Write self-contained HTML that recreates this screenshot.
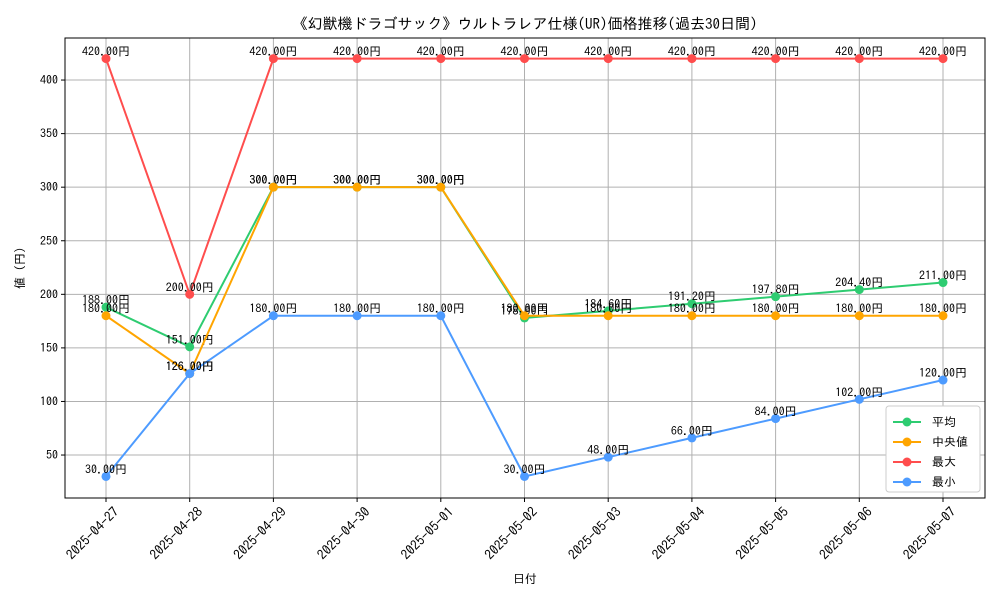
<!DOCTYPE html>
<html><head><meta charset="utf-8"><style>
body{margin:0;background:#fff}
svg{display:block;font-family:"IPAGothic","Noto Sans CJK JP",sans-serif}
</style></head><body>
<svg id="chart" width="1000" height="600">
<text x="525" y="29" font-size="15" text-anchor="middle">《幻獣機ドラゴサック》ウルトラレア仕様(UR)価格推移(過去30日間)</text>
<g id="grid"></g><g id="axes"></g><g id="series"></g>
<text x="525" y="583" font-size="12" text-anchor="middle">日付</text>
<text transform="translate(24,268) rotate(-90)" font-size="12" text-anchor="middle">値 (円)</text>
<g>
<rect x="886" y="406" width="94" height="86" fill="#fff" stroke="#ccc" rx="3"/>
<g id="legend"></g>
</g>
</svg>
<script>
const dates=["2025-04-27","2025-04-28","2025-04-29","2025-04-30","2025-05-01","2025-05-02","2025-05-03","2025-05-04","2025-05-05","2025-05-06","2025-05-07"];
const avgVals=[188,151,300,300,300,178,184.6,191.2,197.8,204.4,211];
const medVals=[180,126,300,300,300,180,180,180,180,180,180];
const maxVals=[420,200,420,420,420,420,420,420,420,420,420];
const minVals=[30,126,180,180,180,30,48,66,84,102,120];
const yTicks=[50,100,150,200,250,300,350,400];
const seriesNames=["平均","中央値","最大","最小"];
const L=65,R=985,T=38,B=498;
const X=i=>106+i*(943-106)/(dates.length-1);
const Y=v=>508.6-v*1.0714;
const NS="http://www.w3.org/2000/svg";
function mk(tag,attrs,parent,txt){const e=document.createElementNS(NS,tag);for(const k in attrs)e.setAttribute(k,attrs[k]);if(txt!=null)e.textContent=txt;parent.appendChild(e);return e;}
const grid=document.getElementById('grid'),axes=document.getElementById('axes'),ser=document.getElementById('series'),leg=document.getElementById('legend');
yTicks.forEach(v=>{
 const l=mk('line',{x1:L,x2:R,y1:Y(v),y2:Y(v),stroke:'#b0b0b0','stroke-width':1},grid);
 
 
 mk('line',{x1:L-4,x2:L,y1:Y(v),y2:Y(v),stroke:'#000'},axes);
 const t=mk('text',{x:L-7,y:Y(v)+4,'font-size':12,'text-anchor':'end'},axes,v);
 
 
});
dates.forEach((d,i)=>{
 const l=mk('line',{x1:X(i),x2:X(i),y1:T,y2:B,stroke:'#b0b0b0','stroke-width':1},grid);
 
 
 mk('line',{x1:X(i),x2:X(i),y1:B,y2:B+4,stroke:'#000'},axes);
 const t=mk('text',{transform:`translate(${X(i)+7},${B+8}) rotate(-45)`,'font-size':13.5,'text-anchor':'end',dy:'0.7em'},axes,d);
 
 
});
mk('rect',{x:L,y:T,width:R-L,height:B-T,fill:'none',stroke:'#000'},axes);
const all=[[avgVals,'#2ecc71'],[medVals,'#ffa500'],[maxVals,'#ff4d4d'],[minVals,'#4d9bff']];
all.forEach(([vals,c],si)=>{
 const g=mk('g',{},ser);
 
 
 mk('polyline',{points:vals.map((v,i)=>X(i)+','+Y(v)).join(' '),fill:'none',stroke:c,'stroke-width':2},g);
 vals.forEach((v,i)=>{
  const p=mk('circle',{cx:X(i),cy:Y(v),r:4.5,fill:c},g);
  
  
  const t=mk('text',{x:X(i),y:Y(v)-3,'font-size':12,'text-anchor':'middle'},g,v.toFixed(2)+'円');
  
  
 });
 const ly=422+si*20;
 mk('line',{x1:893,x2:921,y1:ly,y2:ly,stroke:c,'stroke-width':2},leg);
 mk('circle',{cx:907,cy:ly,r:4.5,fill:c},leg);
 const t=mk('text',{x:932,y:ly+4,'font-size':12},leg,seriesNames[si]);
 
 
});
</script>
</body></html>
